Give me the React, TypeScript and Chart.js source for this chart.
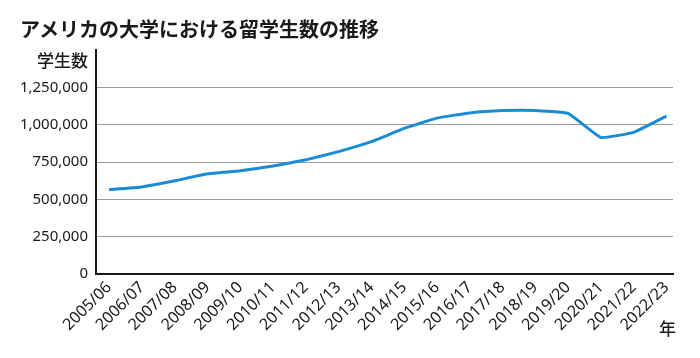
import React, { useEffect, useRef } from 'react';
import { Chart, registerables } from 'chart.js';

Chart.register(...registerables);

const years = [
  '2005/06', '2006/07', '2007/08', '2008/09', '2009/10', '2010/11',
  '2011/12', '2012/13', '2013/14', '2014/15', '2015/16', '2016/17',
  '2017/18', '2018/19', '2019/20', '2020/21', '2021/22', '2022/23',
];

const students = [
  564766, 582984, 623805, 671616, 690923, 723277,
  764495, 819644, 886052, 974926, 1043839, 1078822,
  1094792, 1095299, 1075496, 914095, 948519, 1057188,
];

const yTicks = [0, 250000, 500000, 750000, 1000000, 1250000];

const title = 'アメリカの大学における留学生数の推移';
const yLabel = '学生数';
const xLabel = '年';

const FONT = "'Noto Sans', 'Open Sans', sans-serif";
const CJK = "'Noto Sans CJK JP', 'Noto Sans', sans-serif";

export default function App() {
  const ref = useRef<HTMLCanvasElement>(null);

  useEffect(() => {
    const chart = new Chart(ref.current!, {
      type: 'line',
      data: {
        datasets: [
          {
            data: students.map((v, i) => ({ x: i, y: v })),
            borderColor: '#1a8cd6',
            borderWidth: 3,
            pointRadius: 0,
            tension: 0.1,
            fill: false,
          },
        ],
      },
      options: {
        animation: false,
        responsive: false,
        maintainAspectRatio: false,
        layout: { padding: { top: 50, right: 27, left: 0, bottom: 0 } },
        plugins: { legend: { display: false }, tooltip: { enabled: false } },
        scales: {
          x: {
            type: 'linear',
            min: -0.4,
            max: 17.2,
            afterBuildTicks: (s: any) => {
              s.ticks = years.map((_, i) => ({ value: i }));
            },
            afterFit: (s: any) => {
              s.height = 84;
            },
            grid: { display: false, drawTicks: false },
            border: { display: true, color: '#1a1a1a', width: 2 },
            ticks: {
              autoSkip: false,
              maxRotation: 45,
              minRotation: 45,
              padding: 4,
              color: '#1a1a1a',
              font: { family: FONT, size: 16 },
              callback: (v: any) => years[v as number] ?? '',
            },
          },
          y: {
            min: 0,
            max: 1500000,
            afterBuildTicks: (s: any) => {
              s.ticks = yTicks.map((v) => ({ value: v }));
            },
            afterFit: (s: any) => {
              s.width = 96;
            },
            grid: { drawTicks: false, color: '#9a9a9a', lineWidth: 1 },
            border: { display: true, color: '#1a1a1a', width: 2 },
            ticks: {
              padding: 8,
              color: '#1a1a1a',
              font: { family: FONT, size: 15 },
              callback: (v: any) => Number(v).toLocaleString('en-US'),
            },
          },
        },
      },
    });
    return () => chart.destroy();
  }, []);

  return (
    <div
      style={{
        position: 'fixed',
        left: 0,
        top: 0,
        width: 700,
        height: 358,
        background: '#fff',
        overflow: 'hidden',
      }}
    >
      <canvas ref={ref} width={700} height={358} style={{ display: 'block' }} />
      <div
        style={{
          position: 'absolute',
          left: 20,
          top: 15,
          fontFamily: CJK,
          fontWeight: 700,
          fontSize: 20,
          lineHeight: '28px',
          color: '#1a1a1a',
          whiteSpace: 'nowrap',
        }}
      >
        {title}
      </div>
      <div
        style={{
          position: 'absolute',
          right: 700 - 88,
          top: 48,
          fontFamily: CJK,
          fontWeight: 500,
          fontSize: 17,
          lineHeight: '24px',
          color: '#1a1a1a',
          whiteSpace: 'nowrap',
        }}
      >
        {yLabel}
      </div>
      <div
        style={{
          position: 'absolute',
          left: 659,
          top: 316,
          fontFamily: CJK,
          fontWeight: 500,
          fontSize: 17,
          lineHeight: '24px',
          color: '#1a1a1a',
        }}
      >
        {xLabel}
      </div>
    </div>
  );
}
